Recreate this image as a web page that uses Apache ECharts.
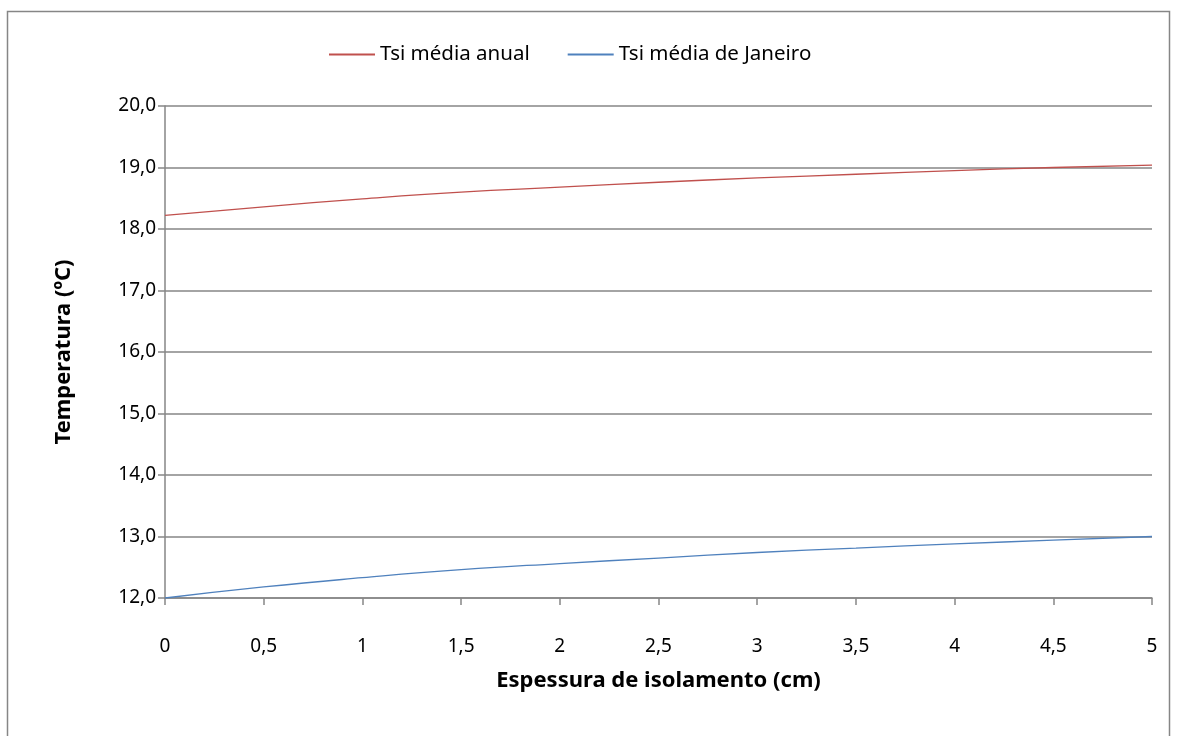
<!DOCTYPE html>
<html>
<head>
    <meta charset="UTF-8">
    <title>Tsi vs espessura de isolamento</title>
    <script src="https://cdn.jsdelivr.net/npm/echarts@6/dist/echarts.min.js"></script>
</head>
<body style="margin: 0; padding: 0; background: #fff;">
    <div id="container" style="width: 1177px; height: 736px;"></div>
    <script>
        // espessura de isolamento (cm)
        var espessura = [0, 0.5, 1, 1.5, 2, 2.5, 3, 3.5, 4, 4.5, 5];
        // Tsi média anual (ºC)
        var tsiAnual = [18.22, 18.36, 18.49, 18.60, 18.68, 18.76, 18.83, 18.89, 18.95, 19.00, 19.04];
        // Tsi média de Janeiro (ºC)
        var tsiJaneiro = [12.00, 12.18, 12.33, 12.46, 12.56, 12.65, 12.74, 12.81, 12.88, 12.94, 13.00];

        var nomes = ["Tsi média anual", "Tsi média de Janeiro"];
        var cores = ["#C0504D", "#4F81BD"];
        var fonte = "'Noto Sans', 'Open Sans', sans-serif";
        var cinza = "#868686";

        function pares(xs, ys) {
            return xs.map(function (x, i) { return [x, ys[i]]; });
        }

        var chart = echarts.init(document.getElementById('container'), null, { renderer: 'canvas' });

        var option = {
            backgroundColor: "#fff",
            animation: false,
            graphic: [{
                type: "rect",
                shape: { x: 7.5, y: 11.5, width: 1162, height: 760 },
                style: { fill: "none", stroke: cinza, lineWidth: 1.5 },
                silent: true
            }],
            legend: {
                data: nomes,
                top: 39,
                left: 324,
                itemWidth: 46,
                itemHeight: 2,
                itemGap: 38,
                icon: "rect",
                textStyle: { fontFamily: fonte, fontSize: 20.5, color: "#000" }
            },
            grid: { left: 165, right: 25, top: 106, bottom: 138, containLabel: false },
            xAxis: {
                type: "value",
                min: 0,
                max: 5,
                interval: 0.5,
                name: "Espessura de isolamento (cm)",
                nameLocation: "middle",
                nameGap: 72,
                nameTextStyle: { fontFamily: fonte, fontSize: 22, fontWeight: "bold", color: "#000" },
                axisLine: { show: true, lineStyle: { color: cinza, width: 1.5 } },
                axisTick: { show: true, length: 7, lineStyle: { color: cinza, width: 1.5 } },
                axisLabel: {
                    margin: 39,
                    fontFamily: fonte, fontSize: 19, color: "#000",
                    formatter: function (v) { return String(v).replace(".", ","); }
                },
                splitLine: { show: false }
            },
            yAxis: {
                type: "value",
                min: 12,
                max: 20,
                interval: 1,
                name: "Temperatura (ºC)",
                nameLocation: "middle",
                nameGap: 90,
                nameRotate: 90,
                nameTextStyle: { fontFamily: fonte, fontSize: 22, fontWeight: "bold", color: "#000" },
                axisLine: { show: true, lineStyle: { color: cinza, width: 1.5 } },
                axisTick: { show: true, inside: false, length: 7, lineStyle: { color: cinza, width: 1.5 } },
                axisLabel: {
                    margin: 9,
                    fontFamily: fonte, fontSize: 19, color: "#000",
                    formatter: function (v) { return v.toFixed(1).replace(".", ","); }
                },
                splitLine: { show: true, lineStyle: { color: cinza, width: 1.5 } }
            },
            series: [{
                type: "line",
                name: nomes[0],
                data: pares(espessura, tsiAnual),
                smooth: true,
                symbol: "none",
                lineStyle: { color: cores[0], width: 1.3 },
                itemStyle: { color: cores[0] }
            }, {
                type: "line",
                name: nomes[1],
                data: pares(espessura, tsiJaneiro),
                smooth: true,
                symbol: "none",
                lineStyle: { color: cores[1], width: 1.3 },
                itemStyle: { color: cores[1] }
            }]
        };
        chart.setOption(option);
    </script>
</body>
</html>
